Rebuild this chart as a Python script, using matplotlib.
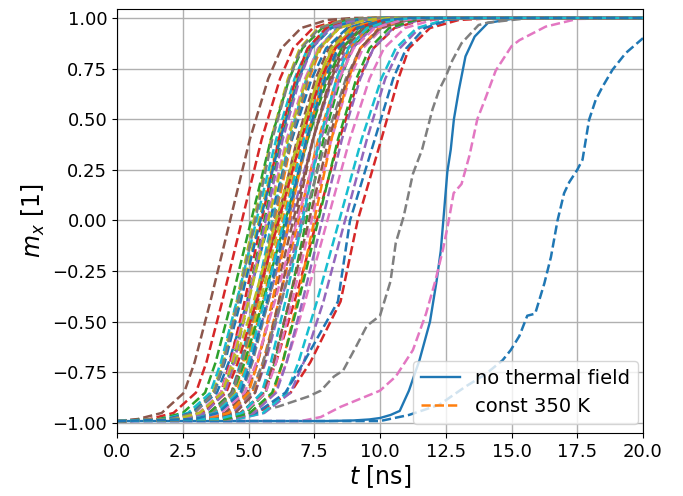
import matplotlib
matplotlib.use("Agg")
import matplotlib.pyplot as plt

# magnetisation levels at which the crossing times of the bundle curves are read
LEVELS = [-0.98, -0.95, -0.85, -0.7, -0.4, 0.0, 0.4, 0.7, 0.85, 0.95, 0.99, 1.0]
T_START, MX_START = 0.0, -0.99
T_END, MX_END = 20.0, 1.0

# no thermal field (solid)
solid_t = [0, 8.0, 9.0, 9.6, 10.0, 10.4, 10.75, 11.1, 11.5, 11.9, 12.15, 12.31, 12.44,
           12.56, 12.69, 12.81, 13.0, 13.25, 13.6, 14.1, 15.0, 16.0, 20]
solid_mx = [-0.99, -0.99, -0.987, -0.982, -0.975, -0.96, -0.94, -0.84, -0.69, -0.5,
            -0.3, -0.15, 0.05, 0.24, 0.35, 0.5, 0.645, 0.81, 0.908, 0.975, 0.995, 1.0,
            1.0]

# slow thermal runs read individually
pink_t = [0, 7.0, 7.75, 8.5, 9.25, 10.0, 10.6, 11.25, 11.75, 12.1, 12.4, 12.6, 12.8,
          13.1, 13.4, 13.7, 14.0, 14.4, 15.0, 15.3, 16.3, 17.5, 20]
pink_mx = [-0.99, -0.99, -0.97, -0.92, -0.88, -0.84, -0.77, -0.64, -0.46, -0.3, -0.14,
           -0.01, 0.135, 0.18, 0.32, 0.5, 0.6, 0.74, 0.86, 0.89, 0.957, 0.995, 1.0]
gray_t = [0, 2.5, 4.5, 6.1, 7.25, 7.75, 8.25, 8.6, 9.1, 9.5, 10.0, 10.4, 10.6, 10.9,
          11.25, 11.6, 12.0, 12.25, 12.5, 12.75, 13.1, 13.75, 14.1, 15.6, 20]
gray_mx = [-0.99, -0.98, -0.96, -0.92, -0.87, -0.84, -0.77, -0.74, -0.62, -0.52, -0.47,
           -0.3, -0.11, 0.02, 0.23, 0.35, 0.55, 0.645, 0.71, 0.79, 0.875, 0.965, 0.977,
           0.998, 1.0]
slow_t = [0, 10.0, 11.1, 12.25, 13.25, 14.0, 14.66, 14.97, 15.3, 15.6, 15.9, 16.25,
          16.5, 16.75, 17.0, 17.2, 17.5, 17.7, 17.95, 18.2, 18.46, 18.84, 19.34, 20.0]
slow_mx = [-0.99, -0.99, -0.96, -0.91, -0.82, -0.76, -0.69, -0.64, -0.57, -0.47, -0.46,
           -0.31, -0.18, 0.0, 0.135, 0.19, 0.25, 0.3, 0.497, 0.595, 0.66, 0.744, 0.826,
           0.90]

# crossing times [ns] of the bundle runs at LEVELS
bundle_a = [
    [2.8, 3.7, 4.55, 4.95, 5.55, 6.3, 7.05, 7.75, 8.25, 9.0, 10.0, 11.0],
    [2.4, 3.3, 4.05, 4.4, 4.95, 5.6, 6.25, 6.9, 7.35, 8.05, 9.0, 10.0],
    [1.25, 2.15, 3.0, 3.4, 4.0, 4.75, 5.5, 6.2, 6.7, 7.45, 8.45, 9.45],
    [2.7, 3.7, 4.6, 5.05, 5.75, 6.6, 7.45, 8.2, 8.75, 9.55, 10.6, 11.6],
    [0.8, 1.7, 2.55, 2.95, 3.55, 4.3, 5.05, 5.75, 6.25, 7.0, 8.0, 9.0],
    [1.9, 2.8, 3.65, 4.05, 4.65, 5.4, 6.15, 6.85, 7.35, 8.1, 9.1, 10.1],
    [2.7, 3.6, 4.35, 4.7, 5.25, 5.9, 6.55, 7.2, 7.65, 8.35, 9.3, 10.3],
]
bundle_b = [
    [3.4, 4.3, 5.15, 5.55, 6.15, 6.9, 7.65, 8.35, 8.85, 9.6, 10.6, 11.6],
    [4.0, 4.9, 5.65, 6.0, 6.55, 7.2, 7.85, 8.5, 8.95, 9.65, 10.6, 11.6],
    [4.2, 5.3, 6.6, 7.35, 8.5, 9.15, 10.05, 10.7, 11.1, 11.9, 13.0, 14.5],
    [4.6, 5.6, 6.6, 7.1, 7.85, 8.67, 9.5, 10.2, 10.75, 11.5, 12.5, 13.5],
    [2.6, 3.5, 4.35, 4.75, 5.35, 6.1, 6.85, 7.55, 8.05, 8.8, 9.8, 10.8],
    [4.1, 5.1, 6.0, 6.45, 7.15, 8.0, 8.85, 9.6, 10.15, 10.95, 12.0, 13.0],
    [3.0, 3.9, 4.75, 5.15, 5.75, 6.5, 7.25, 7.95, 8.45, 9.2, 10.2, 11.2],
    [2.0, 2.9, 3.65, 4.0, 4.55, 5.2, 5.85, 6.5, 6.95, 7.65, 8.6, 9.6],
    [4.55, 5.55, 6.45, 6.9, 7.6, 8.45, 9.3, 10.05, 10.6, 11.4, 12.45, 13.45],
    [4.3, 5.3, 6.4, 7.1, 8.4, 8.86, 9.8, 10.5, 11.0, 11.7, 12.6, 13.6],
]
bundle_c = [
    [2.8, 3.7, 4.45, 4.8, 5.35, 6.0, 6.65, 7.3, 7.75, 8.45, 9.4, 10.4],
    [1.6, 2.5, 3.35, 3.75, 4.35, 5.1, 5.85, 6.55, 7.05, 7.8, 8.8, 9.8],
    [3.7, 4.7, 5.6, 6.05, 6.75, 7.6, 8.45, 9.2, 9.75, 10.55, 11.6, 12.6],
    [3.5, 4.4, 5.25, 5.65, 6.25, 7.0, 7.75, 8.45, 8.95, 9.7, 10.7, 11.7],
    [3.6, 4.5, 5.25, 5.6, 6.15, 6.8, 7.45, 8.1, 8.55, 9.25, 10.2, 11.2],
    [3.9, 4.8, 5.65, 6.05, 6.65, 7.4, 8.15, 8.85, 9.35, 10.1, 11.1, 12.1],
    [3.2, 4.2, 5.1, 5.55, 6.25, 7.1, 7.95, 8.7, 9.25, 10.05, 11.1, 12.1],
    [2.7, 3.6, 4.45, 4.85, 5.45, 6.2, 6.95, 7.65, 8.15, 8.9, 9.9, 10.9],
    [1.8, 2.7, 3.55, 3.95, 4.55, 5.3, 6.05, 6.75, 7.25, 8.0, 9.0, 10.0],
    [1.9, 2.9, 3.8, 4.25, 4.95, 5.8, 6.65, 7.4, 7.95, 8.75, 9.8, 10.8],
]
bundle_d = [
    [4.3, 5.2, 5.95, 6.3, 6.85, 7.5, 8.15, 8.8, 9.25, 9.95, 10.9, 11.9],
    [2.5, 3.5, 4.4, 4.85, 5.55, 6.4, 7.25, 8.0, 8.55, 9.35, 10.4, 11.4],
    [2.3, 3.2, 3.95, 4.3, 4.85, 5.5, 6.15, 6.8, 7.25, 7.95, 8.9, 9.9],
    [4.3, 5.2, 6.05, 6.45, 7.05, 7.8, 8.55, 9.25, 9.75, 10.5, 11.5, 12.5],
    [3.2, 4.1, 4.95, 5.35, 5.95, 6.7, 7.45, 8.15, 8.65, 9.4, 10.4, 11.4],
    [2.2, 3.1, 3.95, 4.35, 4.95, 5.7, 6.45, 7.15, 7.65, 8.4, 9.4, 10.4],
    [2.75, 3.65, 4.4, 4.75, 5.3, 5.95, 6.6, 7.25, 7.7, 8.4, 9.35, 10.35],
    [2.15, 3.15, 4.05, 4.5, 5.2, 6.05, 6.9, 7.65, 8.2, 9.0, 10.05, 11.05],
    [2.85, 3.75, 4.6, 5.0, 5.6, 6.35, 7.1, 7.8, 8.3, 9.05, 10.05, 11.05],
    [1.95, 2.85, 3.7, 4.1, 4.7, 5.45, 6.2, 6.9, 7.4, 8.15, 9.15, 10.15],
]
bundle_e = [
    [3.35, 4.25, 5.0, 5.35, 5.9, 6.55, 7.2, 7.85, 8.3, 9.0, 9.95, 10.95],
    [4.15, 5.05, 5.9, 6.3, 6.9, 7.65, 8.4, 9.1, 9.6, 10.35, 11.35, 12.35],
    [2.25, 3.25, 4.15, 4.6, 5.3, 6.15, 7.0, 7.75, 8.3, 9.1, 10.15, 11.15],
    [2.45, 3.35, 4.1, 4.45, 5.0, 5.65, 6.3, 6.95, 7.4, 8.1, 9.05, 10.05],
    [3.8, 4.7, 5.55, 5.95, 6.55, 7.3, 8.05, 8.75, 9.25, 10.0, 11.0, 12.0],
    [2.95, 3.95, 4.85, 5.3, 6.0, 6.85, 7.7, 8.45, 9.0, 9.8, 10.85, 11.85],
    [2.05, 2.95, 3.7, 4.05, 4.6, 5.25, 5.9, 6.55, 7.0, 7.7, 8.65, 9.65],
    [2.25, 3.15, 4.0, 4.4, 5.0, 5.75, 6.5, 7.2, 7.7, 8.45, 9.45, 10.45],
    [3.85, 4.75, 5.5, 5.85, 6.4, 7.05, 7.7, 8.35, 8.8, 9.5, 10.45, 11.45],
    [2.95, 3.85, 4.7, 5.1, 5.7, 6.45, 7.2, 7.9, 8.4, 9.15, 10.15, 11.15],
]

XLIM = (0, 20)
YLIM = (-1.049, 1.044)
XTICKS = [0, 2.5, 5, 7.5, 10, 12.5, 15, 17.5, 20]
YTICKS = [-1, -0.75, -0.5, -0.25, 0, 0.25, 0.5, 0.75, 1.0]

fig = plt.figure(figsize=(6.83, 4.96), dpi=100)
ax = fig.add_axes([117 / 683, 1 - 433 / 496, (643 - 117) / 683, (433 - 9) / 496])

ax.plot(solid_t, solid_mx, "-", color="C0", lw=1.7, label="no thermal field")

bundle_runs = bundle_a + bundle_b + bundle_c + bundle_d + bundle_e
specials = {5: (pink_t, pink_mx), 6: (gray_t, gray_mx), 9: (slow_t, slow_mx)}
n_runs = len(bundle_runs) + len(specials)
k = 0
for i in range(n_runs):
    if i in specials:
        t, mx = specials[i]
    else:
        t = [T_START] + bundle_runs[k] + [T_END]
        mx = [MX_START] + LEVELS + [MX_END]
        k += 1
    ax.plot(t, mx, "--", color=f"C{(i + 1) % 10}", lw=1.8,
            label="const 350 K" if i == 0 else None)

ax.set_xlim(*XLIM)
ax.set_ylim(*YLIM)
ax.set_xticks(XTICKS)
ax.set_yticks(YTICKS)
ax.tick_params(labelsize=13)
ax.grid(True, color="#b0b0b0", lw=1.0)
ax.set_axisbelow(True)
ax.set_xlabel("$t$ [ns]", fontsize=17, labelpad=2)
ax.set_ylabel("$m_x$ [1]", fontsize=17, labelpad=4)
ax.legend(loc="lower right", fontsize=14, borderaxespad=0,
          bbox_to_anchor=(1 - 5 / 526, 9 / 424))

fig.savefig("out.png", dpi=100)
